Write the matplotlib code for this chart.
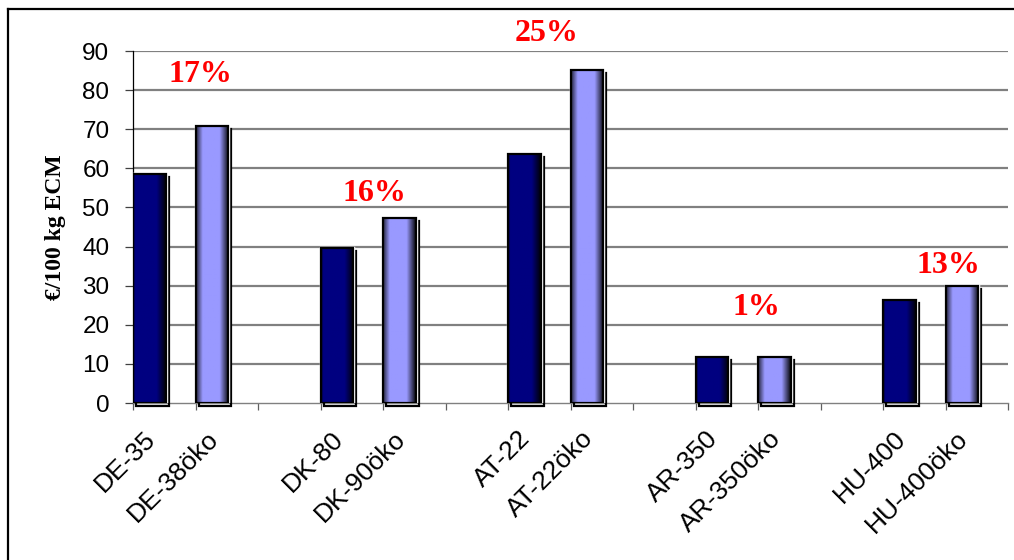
import matplotlib
matplotlib.use('Agg')
import matplotlib.pyplot as plt
from matplotlib.lines import Line2D
from matplotlib.patches import Rectangle
import matplotlib.transforms as mtransforms
import numpy as np

# Farms: conventional vs. organic ("öko") pairs
labels = ['DE-35', 'DE-38öko', 'DK-80', 'DK-90öko', 'AT-22', 'AT-22öko',
          'AR-350', 'AR-350öko', 'HU-400', 'HU-400öko']
conv_values = [58.5, 39.6, 63.7, 11.8, 26.3]
oeko_values = [70.8, 47.3, 85.1, 11.7, 30.0]
diff_labels = ['17%', '16%', '25%', '1%', '13%']

SANS = 'Liberation Sans'
SERIF = 'Liberation Serif'
NAVY = np.array([0, 0, 128]) / 255
LILAC = np.array([153, 153, 255]) / 255


def shade(base, left_dark):
    # horizontal cylinder-like shading across the bar width
    t = np.linspace(0, 1, 64)
    k = np.ones_like(t)
    k = np.where(t > 0.72, 1 - (t - 0.72) / 0.28 * 0.95, k)
    if left_dark:
        k = np.where(t < 0.2, 0.25 + 0.75 * t / 0.2, k)
    else:
        k = np.where(t < 0.06, 0.3 + 0.7 * t / 0.06, k)
    return (base[None, :] * k[:, None])[None, :, :]


fig = plt.figure(figsize=(10.14, 5.6), dpi=100)
ax = fig.add_axes([133 / 1014, 1 - 403 / 560, 875 / 1014, 352 / 560])

n_slots = 14
bar_w = 0.52
conv_x = [3 * i for i in range(len(conv_values))]
oeko_x = [3 * i + 1 for i in range(len(oeko_values))]

# dark drop shadow behind each bar
shadow = mtransforms.offset_copy(ax.transData, fig=fig, x=2.2, y=-2.2, units='points')
for xs, vals, base, left_dark in [(conv_x, conv_values, NAVY, False),
                                  (oeko_x, oeko_values, LILAC, True)]:
    for x, v in zip(xs, vals):
        ax.add_patch(Rectangle((x, 0), bar_w, v, facecolor='none', edgecolor='black',
                               lw=1.6, transform=shadow, zorder=3, clip_on=False))
        ax.add_patch(Rectangle((x, 0), bar_w, v, facecolor='white', edgecolor='white',
                               lw=2.5, zorder=3.5))
        ax.imshow(shade(base, left_dark), extent=(x, x + bar_w, 0, v),
                  aspect='auto', interpolation='bilinear', zorder=4)
        ax.add_patch(Rectangle((x, 0), bar_w, v, facecolor='none', edgecolor='black',
                               lw=1.6, zorder=5))

ax.set_xlim(0, n_slots)
ax.set_ylim(0, 90)

# grid and axes
ax.set_yticks(range(0, 91, 10))
for y in range(10, 91, 10):
    ax.axhline(y, color='#808080', lw=1.6, zorder=1)
ax.set_xticks(range(0, n_slots + 1))
ax.set_xticklabels([])
for side in ['top', 'right']:
    ax.spines[side].set_visible(False)
ax.spines['left'].set_color('black')
ax.spines['left'].set_linewidth(0.9)
ax.spines['bottom'].set_color('#808080')
ax.spines['bottom'].set_linewidth(1.0)
ax.tick_params(axis='y', direction='out', length=6, width=0.9, color='#404040',
               labelsize=17.5, pad=11)
ax.tick_params(axis='x', direction='out', length=5, width=0.9, color='#606060')
for t in ax.get_yticklabels():
    t.set_fontfamily(SANS)

# category labels, rotated under the bars
xlab = mtransforms.blended_transform_factory(ax.transData, fig.transFigure)
all_x = [p for pair in zip(conv_x, oeko_x) for p in pair]
for x, lab in zip(all_x, labels):
    ax.text(x + bar_w / 2 + 0.04, 1 - 435 / 560, lab, transform=xlab, rotation=45,
            rotation_mode='anchor', ha='right', va='center', fontsize=19,
            family=SANS, color='black')

# percentage differences above each pair
diff_pos = [(1.08, 84.0), (3.87, 53.6), (6.62, 94.5), (9.98, 24.4), (13.04, 35.2)]
for (px, py), txt in zip(diff_pos, diff_labels):
    ax.text(px, py, txt, ha='center', va='center', fontsize=23, fontweight='bold',
            family=SERIF, color='#FF0000', clip_on=False, zorder=6)

fig.text(55 / 1014, 1 - 227 / 560, '€/100 kg ECM', rotation=90, ha='center',
         va='center', fontsize=17, fontweight='bold', family=SERIF)

# outer frame (only the left and top edges fall inside the image)
fig.add_artist(Line2D([8 / 1014, 8 / 1014], [0, 1 - 9 / 560], color='black', lw=1.6,
                      transform=fig.transFigure))
fig.add_artist(Line2D([8 / 1014, 1], [1 - 9 / 560, 1 - 9 / 560], color='black', lw=1.6,
                      transform=fig.transFigure))

fig.savefig('out.png', dpi=100, facecolor='white')
